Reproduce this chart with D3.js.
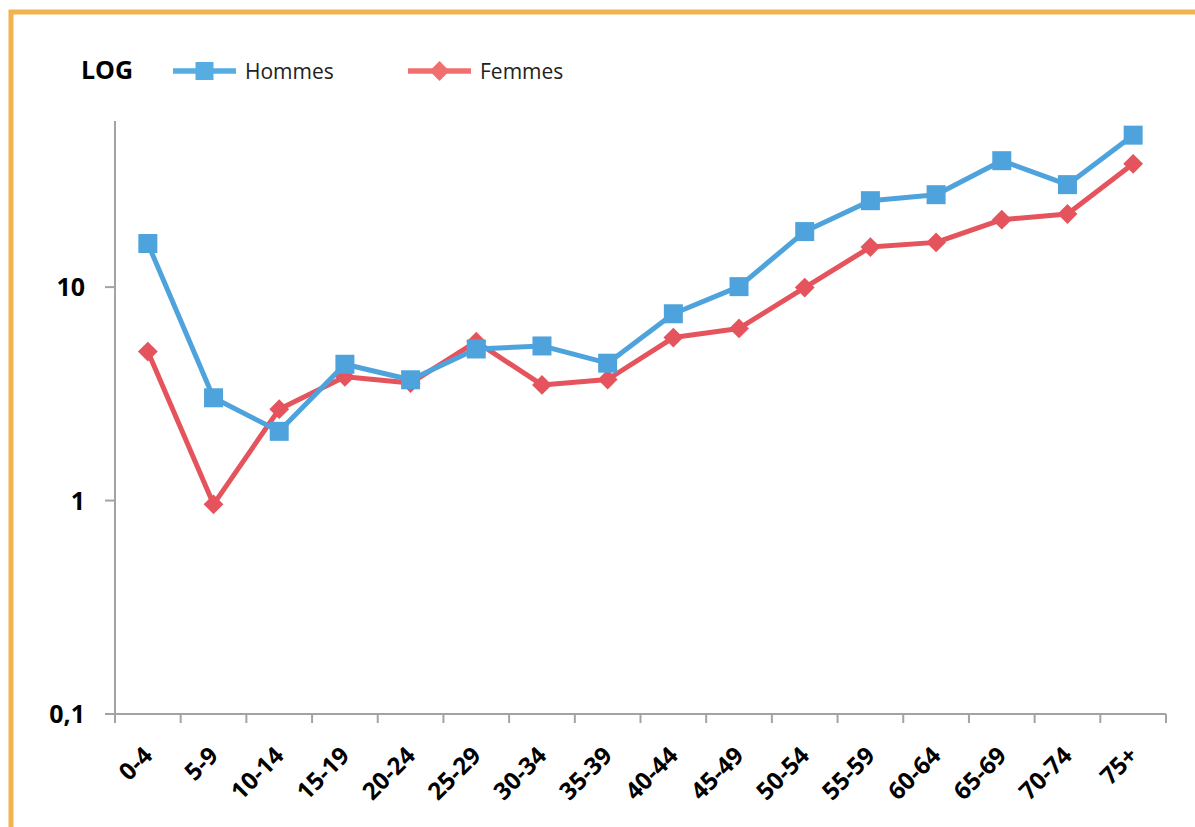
<!DOCTYPE html>
<html>
<head>
<meta charset="utf-8">
<script src="https://cdn.jsdelivr.net/npm/d3@7"></script>
<style>
  html, body { margin: 0; padding: 0; background: #fff; }
  svg { display: block; }
  text { font-family: "Open Sans", "Noto Sans", sans-serif; }
</style>
</head>
<body>
<svg id="chart" width="1195" height="827"></svg>
<script>
const categories = ["0-4","5-9","10-14","15-19","20-24","25-29","30-34","35-39","40-44","45-49","50-54","55-59","60-64","65-69","70-74","75+"];
const hommes = [16.0, 3.03, 2.11, 4.35, 3.68, 5.13, 5.3, 4.4, 7.5, 10.05, 18.2, 25.4, 27.1, 39.1, 30.2, 51.5];
const femmes = [4.99, 0.96, 2.68, 3.8, 3.55, 5.55, 3.48, 3.69, 5.8, 6.4, 9.95, 15.4, 16.2, 20.7, 22.0, 37.8];
const yTicks = [0.1, 1, 10];
const yTickLabels = ["0,1", "1", "10"];
const yDomain = [0.1, 60];
const seriesNames = ["Hommes", "Femmes"];

const blue = "#4FA3DC", red = "#E5535D";
const blueLegend = "#55ADE1", redLegend = "#F07070";

const svg = d3.select("#chart");

// orange frame
svg.append("rect")
  .attr("x", 11).attr("y", 12)
  .attr("width", 1300).attr("height", 1000)
  .attr("fill", "none").attr("stroke", "#F2B24E").attr("stroke-width", 5);

const mLeft = 115, mRight = 1166, mTop = 121, mBottom = 714;

const x = d3.scaleBand().domain(categories).range([mLeft, mRight]).padding(0);
const y = d3.scaleLog().domain(yDomain).range([mBottom, mTop]);
const cx = d => x(d) + x.bandwidth() / 2;

const axisColor = "#A3A3A3";

// y axis line
svg.append("line")
  .attr("x1", mLeft).attr("x2", mLeft).attr("y1", y(yDomain[0])).attr("y2", y(yDomain[1]))
  .attr("stroke", axisColor).attr("stroke-width", 2);
// y ticks
const yt = svg.append("g");
yTicks.forEach((t, i) => {
  yt.append("line").attr("x1", mLeft - 10).attr("x2", mLeft).attr("y1", y(t)).attr("y2", y(t))
    .attr("stroke", axisColor).attr("stroke-width", 2);
  yt.append("text").attr("x", 85).attr("y", y(t)).attr("dy", "0.36em")
    .attr("text-anchor", "end").attr("font-size", 25).attr("font-weight", 700)
    .attr("fill", "#000").text(yTickLabels[i]);
});

// x axis line
svg.append("line")
  .attr("x1", mLeft).attr("x2", mRight).attr("y1", mBottom).attr("y2", mBottom)
  .attr("stroke", axisColor).attr("stroke-width", 2);
// x ticks at band boundaries
const bounds = categories.map(c => x(c)).concat([mRight]);
svg.append("g").selectAll("line").data(bounds).join("line")
  .attr("x1", d => d).attr("x2", d => d).attr("y1", mBottom).attr("y2", mBottom + 9)
  .attr("stroke", axisColor).attr("stroke-width", 2);
// x labels
svg.append("g").selectAll("text").data(categories).join("text")
  .attr("transform", d => `translate(${cx(d)},${751}) rotate(-45)`)
  .attr("dy", "0.36em")
  .attr("text-anchor", "end").attr("font-size", 24).attr("font-weight", 700)
  .attr("fill", "#000").text(d => d);

// lines
const line = d3.line().x((d, i) => cx(categories[i])).y(d => y(d));

function drawDiamond(g, px, py, s, color) {
  g.append("rect").attr("x", -s/2).attr("y", -s/2).attr("width", s).attr("height", s)
    .attr("transform", `translate(${px},${py}) rotate(45)`).attr("fill", color);
}
function drawSquare(g, px, py, s, color) {
  g.append("rect").attr("x", px - s/2).attr("y", py - s/2).attr("width", s).attr("height", s)
    .attr("fill", color);
}

// Femmes (below)
const gF = svg.append("g");
gF.append("path").datum(femmes).attr("d", line)
  .attr("fill", "none").attr("stroke", red).attr("stroke-width", 5).attr("stroke-linejoin", "round");
femmes.forEach((v, i) => drawDiamond(gF, cx(categories[i]), y(v), 14, red));

// Hommes (on top)
const gH = svg.append("g");
gH.append("path").datum(hommes).attr("d", line)
  .attr("fill", "none").attr("stroke", blue).attr("stroke-width", 5).attr("stroke-linejoin", "round");
hommes.forEach((v, i) => drawSquare(gH, cx(categories[i]), y(v), 19, blue));

// legend
svg.append("text").attr("x", 81).attr("y", 79).attr("font-size", 25).attr("font-weight", 700)
  .attr("fill", "#000").text("LOG");
const lg = svg.append("g");
lg.append("line").attr("x1", 173).attr("x2", 236).attr("y1", 71).attr("y2", 71)
  .attr("stroke", blueLegend).attr("stroke-width", 5.5);
drawSquare(lg, 204.5, 71, 18, blueLegend);
lg.append("text").attr("x", 245).attr("y", 71).attr("dy", "0.36em").attr("font-size", 21)
  .attr("fill", "#222").text(seriesNames[0]);
lg.append("line").attr("x1", 408).attr("x2", 471).attr("y1", 71).attr("y2", 71)
  .attr("stroke", redLegend).attr("stroke-width", 5.5);
drawDiamond(lg, 439.5, 71, 14, redLegend);
lg.append("text").attr("x", 480).attr("y", 71).attr("dy", "0.36em").attr("font-size", 21)
  .attr("fill", "#222").text(seriesNames[1]);
</script>
</body>
</html>
